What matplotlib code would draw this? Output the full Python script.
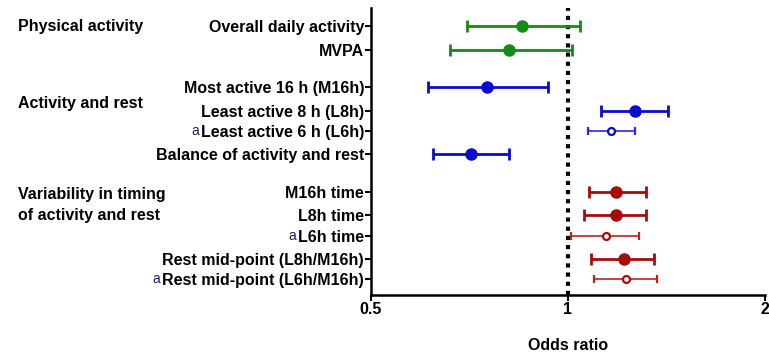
import numpy as np
import matplotlib.pyplot as plt

plt.rcParams['font.family'] = ['Liberation Sans', 'DejaVu Sans']

labels = ["Overall daily activity", "MVPA",
          "Most active 16 h (M16h)", "Least active 8 h (L8h)",
          "Least active 6 h (L6h)", "Balance of activity and rest",
          "M16h time", "L8h time", "L6h time",
          "Rest mid-point (L8h/M16h)", "Rest mid-point (L6h/M16h)"]
odds = [0.852, 0.813, 0.751, 1.264, 1.164, 0.712,
        1.185, 1.182, 1.144, 1.216, 1.225]
ci_low = [0.701, 0.661, 0.611, 1.124, 1.072, 0.621,
          1.075, 1.059, 1.011, 1.085, 1.094]
ci_high = [1.044, 1.014, 0.933, 1.423, 1.264, 0.813,
           1.314, 1.314, 1.284, 1.352, 1.368]
groups = ["Physical activity", "Activity and rest",
          "Variability in timing\nof activity and rest"]
group_of = [0, 0, 1, 1, 1, 1, 2, 2, 2, 2, 2]
footnote_a = [False, False, False, False, True, False,
              False, False, True, False, True]

# row positions (top to bottom, in pixel-ish units)
ypos = [26, 50, 87, 111, 131, 154, 192, 215, 236, 259, 279]
group_y = [26, 104, 205]
colors = ['#128c12', '#0a0ad0', '#a80a0a']
light = ['#128c12', '#2a2ae0', '#c02020']

fig = plt.figure(figsize=(7.69, 3.54), dpi=100)
ax = fig.add_axes([371 / 769, 1 - 295 / 354, (765 - 371) / 769, (295 - 8) / 354])

for i in range(len(labels)):
    g = group_of[i]
    err = [[odds[i] - ci_low[i]], [ci_high[i] - odds[i]]]
    if footnote_a[i]:
        ax.errorbar(odds[i], ypos[i], xerr=err, fmt='o', color=light[g],
                    mfc='white', mec=colors[g], mew=1.6, ms=5,
                    elinewidth=1.2, capsize=3, capthick=1.2, zorder=3)
    else:
        ax.errorbar(odds[i], ypos[i], xerr=err, fmt='o', color=colors[g],
                    ms=8, elinewidth=2, capsize=4, capthick=2, zorder=3)

ax.axvline(1, color='black', linestyle=(0, (1, 1.2)), linewidth=3, zorder=1)

ax.set_xscale('log')
ax.set_xlim(0.5, 2)
ax.set_ylim(295, 8)
ax.set_xticks([0.5, 1, 2])
ax.set_xticklabels(['0.5', '1', '2'])
ax.minorticks_off()
ax.set_yticks(ypos)
ax.set_yticklabels(labels)
for t in ax.get_yticklabels() + ax.get_xticklabels():
    t.set_fontweight('bold')
    t.set_fontsize(11.5)
ax.tick_params(axis='y', length=4, width=1.5, pad=1)
ax.tick_params(axis='x', length=4, width=1.5, pad=1)
ax.spines['top'].set_visible(False)
ax.spines['right'].set_visible(False)
ax.spines['left'].set_linewidth(1.8)
ax.spines['bottom'].set_linewidth(1.8)
ax.set_xlabel('Odds ratio', fontsize=11.5, fontweight='bold', labelpad=15)

for name, gy in zip(groups, group_y):
    ax.text(18 / 769, 1 - gy / 354, name, transform=fig.transFigure,
            fontsize=11.5, fontweight='bold', va='center', ha='left',
            linespacing=1.45)

fig.canvas.draw()
renderer = fig.canvas.get_renderer()
for t, flag in zip(ax.get_yticklabels(), footnote_a):
    if flag:
        bb = t.get_window_extent(renderer)
        fig.text((bb.x0 - 2) / 769, (bb.y0 + bb.height * 0.6) / 354, 'a',
                 color='#1a1a6a', fontsize=10, ha='right', va='center')

fig.savefig('out.png', dpi=100)
